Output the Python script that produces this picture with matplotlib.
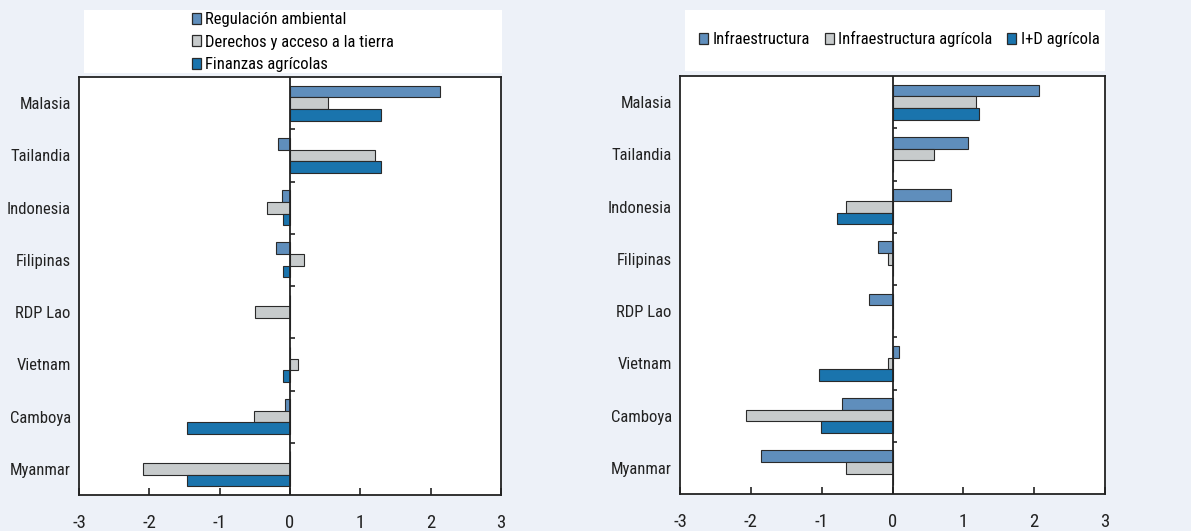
import matplotlib
matplotlib.use("Agg")
import matplotlib.pyplot as plt
from matplotlib.patches import Patch, Rectangle
from matplotlib import font_manager
import numpy as np

names = {f.name for f in font_manager.fontManager.ttflist}
fam = [n for n in ["Liberation Sans Narrow", "Roboto Condensed", "Liberation Sans"] if n in names]
plt.rcParams['font.family'] = fam + ['DejaVu Sans']
plt.rcParams['font.size'] = 12

countries = ["Malasia", "Tailandia", "Indonesia", "Filipinas", "RDP Lao", "Vietnam", "Camboya", "Myanmar"]

left_labels = ["Regulación ambiental", "Derechos y acceso a la tierra", "Finanzas agrícolas"]
regulacion = [2.14, -0.17, -0.12, -0.20, 0.0, 0.0, -0.07, 0.0]
derechos = [0.54, 1.21, -0.33, 0.20, -0.50, 0.11, -0.51, -2.09]
finanzas = [1.29, 1.29, -0.10, -0.10, 0.0, -0.10, -1.47, -1.47]

right_labels = ["Infraestructura", "Infraestructura agrícola", "I+D agrícola"]
infra = [2.07, 1.06, 0.82, -0.20, -0.33, 0.09, -0.71, -1.86]
infra_agri = [1.18, 0.59, -0.65, -0.07, 0.0, -0.06, -2.07, -0.65]
id_agri = [1.22, 0.0, -0.79, 0.0, 0.0, -1.04, -1.01, 0.0]

xticks = [-3, -2, -1, 0, 1, 2, 3]
colors = ["#5F8EBC", "#C7CBCC", "#1A74AD"]
edge = "#2a2a2a"
bg = "#EDF1F8"

fig = plt.figure(figsize=(11.91, 5.31), dpi=100, facecolor=bg)

def panel(rect, series, labels):
    ax = fig.add_axes(rect)
    ax.set_facecolor("white")
    y = np.arange(len(countries))
    h = 0.223
    for i, (vals, c, lab) in enumerate(zip(series, colors, labels)):
        ax.barh(y + (i - 1) * h, vals, height=h, color=c, edgecolor=edge, linewidth=0.8, label=lab, zorder=3)
    ax.set_ylim(len(countries) - 0.5, -0.5)
    ax.set_xlim(-3, 3)
    ax.set_yticks(y)
    ax.set_yticklabels(countries)
    ax.tick_params(axis='y', length=0, pad=6, labelsize=12, colors="#222222")
    ax.set_xticks(xticks)
    ax.set_xticklabels([str(t) for t in xticks])
    ax.tick_params(axis='x', direction='in', length=5, width=1.2, pad=14, labelsize=13.5, colors="#222222")
    for s in ax.spines.values():
        s.set_linewidth(1.3)
        s.set_color("#222222")
    ax.axvline(0, color="#222222", lw=1.3, zorder=4)
    bounds = np.arange(len(countries) - 1) + 0.5
    ax.hlines(bounds, 0, 0.07, color="#222222", lw=1.2, zorder=4)
    return ax

axL = panel([0.0663, 0.0678, 0.3543, 0.787], [regulacion, derechos, finanzas], left_labels)
axR = panel([0.571, 0.0697, 0.3568, 0.787], [infra, infra_agri, id_agri], right_labels)

# legend boxes
fig.patches.append(Rectangle((0.0705, 0.8625), 0.351, 0.1185, transform=fig.transFigure, facecolor="white", edgecolor="none", zorder=0))
fig.patches.append(Rectangle((0.5752, 0.866), 0.3526, 0.115, transform=fig.transFigure, facecolor="white", edgecolor="none", zorder=0))

def handles(labels):
    return [Patch(facecolor=c, edgecolor=edge, linewidth=0.9, label=l) for c, l in zip(colors, labels)]

fig.legend(handles=handles(left_labels), loc="center", bbox_to_anchor=(0.246, 0.9207), frameon=False,
           ncol=1, handlelength=0.55, handleheight=0.6, handletextpad=0.25, labelspacing=0.45,
           fontsize=12, borderpad=0, borderaxespad=0)
fig.legend(handles=handles(right_labels), loc="center", bbox_to_anchor=(0.755, 0.926), frameon=False,
           ncol=3, handlelength=0.55, handleheight=0.6, handletextpad=0.25, columnspacing=0.9,
           fontsize=12, borderpad=0, borderaxespad=0)

fig.savefig("out.png", dpi=100, facecolor=bg)
